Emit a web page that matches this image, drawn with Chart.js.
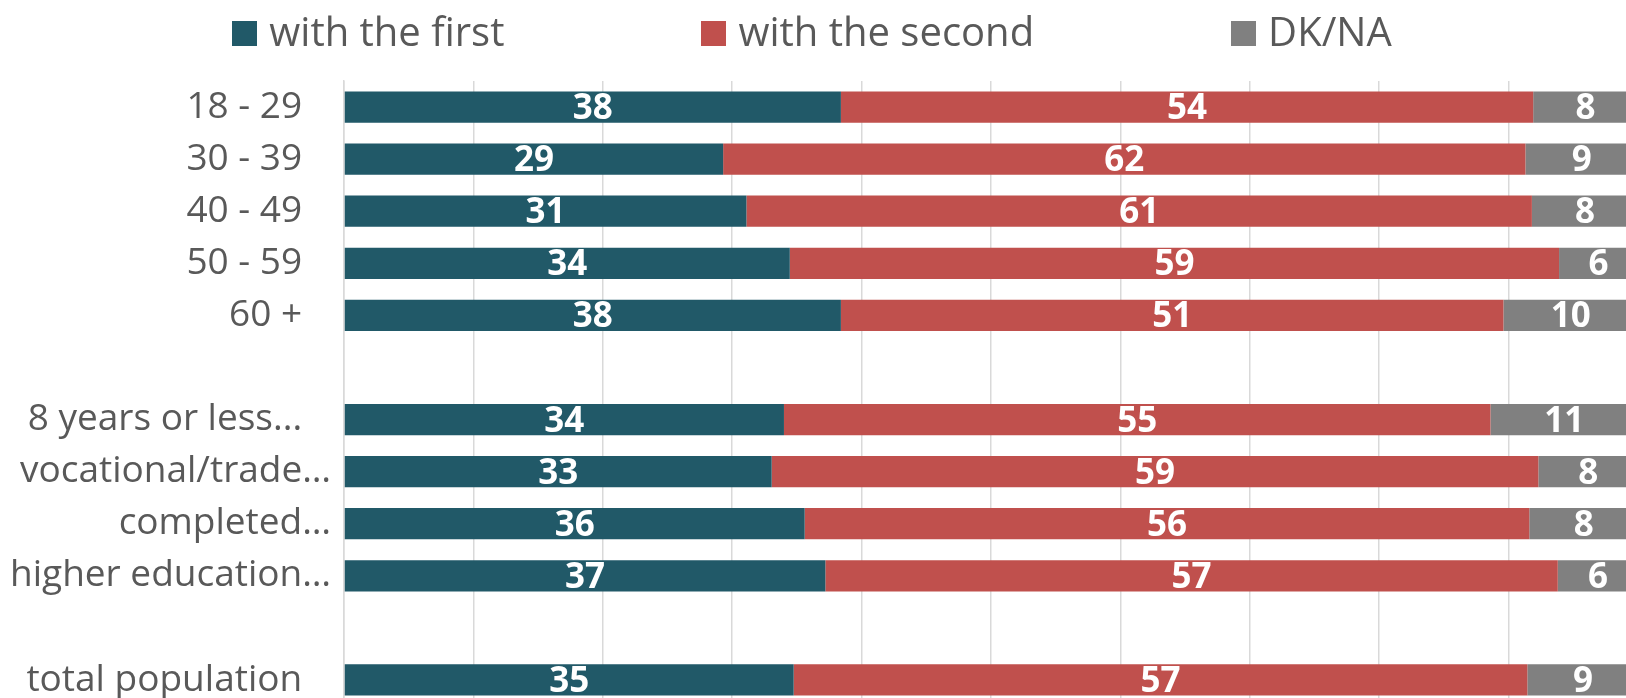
<!DOCTYPE html>
<html>
<head>
<meta charset="utf-8">
<script src="https://cdn.jsdelivr.net/npm/chart.js@4"></script>
<style>
  body { margin: 0; background: #fff; overflow: hidden; }
  #wrap { position: relative; width: 1640px; height: 708px; }
  #legend {
    position: absolute; top: 3px; left: 4px; width: 1616px;
    display: flex; justify-content: center; gap: 197px;
    font-family: 'Open Sans'; font-size: 40px; color: #595959;
  }
  #legend .item { display: flex; align-items: center; white-space: nowrap; }
  #legend .box { width: 25px; height: 25px; margin-right: 12px; position: relative; top: 3px; }
</style>
</head>
<body>
<div id="wrap">
  <canvas id="chart" width="1640" height="708"></canvas>
  <div id="legend"></div>
</div>
<script>
// Categorias (linhas vazias separam os grupos)
const categories = ['18 - 29', '30 - 39', '40 - 49', '50 - 59', '60 +', '',
  '8 years or less...', 'vocational/trade…', 'completed…', 'higher education…', '',
  'total population'];

const seriesNames = ['with the first', 'with the second', 'DK/NA'];
const seriesColors = ['#215968', '#c0504d', '#808080'];

// Valores estimados a partir do comprimento das barras
const withFirst  = [38.4, 29.3, 31.1, 34.45, 38.4, null, 34.0, 33.05, 35.6, 37.2, null, 34.75];
const withSecond = [53.5, 62.0, 60.7, 59.45, 51.2, null, 54.6, 59.25, 56.0, 56.6, null, 56.7];
const dkNa       = [8.1, 8.7, 8.2, 6.1, 10.4, null, 11.4, 7.7, 8.4, 6.2, null, 8.6];

// Escreve os valores dentro de cada segmento
const valueLabels = {
  id: 'valueLabels',
  afterDatasetsDraw(chart) {
    const ctx = chart.ctx;
    ctx.save();
    ctx.font = 'bold 35px "Open Sans"';
    ctx.fillStyle = '#ffffff';
    ctx.textAlign = 'center';
    ctx.textBaseline = 'middle';
    chart.data.datasets.forEach((ds, i) => {
      chart.getDatasetMeta(i).data.forEach((bar, j) => {
        const v = ds.data[j];
        if (v === null) return;
        ctx.fillText(Math.round(v), (bar.x + bar.base) / 2, bar.y + 2);
      });
    });
    ctx.restore();
  }
};

const chart = new Chart(document.getElementById('chart'), {
  type: 'bar',
  data: {
    labels: categories,
    datasets: [
      { label: seriesNames[0], data: withFirst, backgroundColor: seriesColors[0] },
      { label: seriesNames[1], data: withSecond, backgroundColor: seriesColors[1] },
      { label: seriesNames[2], data: dkNa, backgroundColor: seriesColors[2] }
    ]
  },
  options: {
    indexAxis: 'y',
    responsive: false,
    animation: false,
    layout: { padding: { top: 81, right: 2, bottom: 2, left: 0 } },
    datasets: { bar: { categoryPercentage: 1, barPercentage: 0.6 } },
    plugins: {
      legend: { display: false },
      tooltip: { enabled: false }
    },
    scales: {
      x: {
        stacked: true,
        min: 0,
        max: 100,
        ticks: { display: false, stepSize: 10 },
        grid: { color: '#d9d9d9', lineWidth: 1.5, drawTicks: false },
        border: { display: false }
      },
      y: {
        stacked: true,
        grid: { display: false, drawTicks: false },
        border: { color: '#d9d9d9', width: 1.5 },
        ticks: {
          color: '#595959',
          font: { family: 'Open Sans', size: 37 },
          padding: 13,
          autoSkip: false,
          callback: function (value) {
            const t = this.getLabelForValue(value);
            return t.endsWith('…') ? t : t + '   ';
          }
        },
        afterFit: scale => {
          // largura fixa do eixo e sem folga extra em cima/embaixo
          scale.width = 344;
          scale.paddingTop = 0;
          scale.paddingBottom = 0;
        }
      }
    }
  },
  plugins: [valueLabels]
});

// Legenda em HTML acima do gráfico
const legend = document.getElementById('legend');
chart.data.datasets.forEach(ds => {
  const item = document.createElement('div');
  item.className = 'item';
  item.innerHTML = `<span class="box" style="background:${ds.backgroundColor}"></span><span>${ds.label}</span>`;
  legend.appendChild(item);
});
</script>
</body>
</html>
